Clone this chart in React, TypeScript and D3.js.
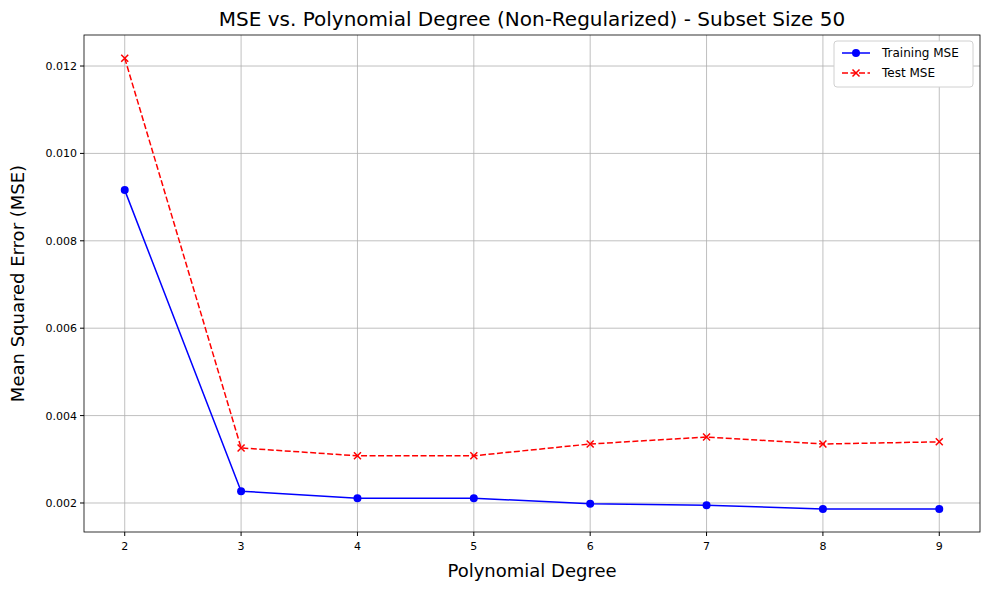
import * as d3 from "d3";

const degrees = [2, 3, 4, 5, 6, 7, 8, 9];
const trainingMse = [0.00916, 0.00227, 0.00211, 0.00211, 0.00198, 0.00195, 0.00186, 0.00186];
const testMse = [0.01218, 0.00326, 0.00308, 0.00308, 0.00335, 0.00351, 0.00335, 0.0034];
const yTicks = [0.002, 0.004, 0.006, 0.008, 0.01, 0.012];

const W = 989;
const H = 590;
const m = { left: 84, right: 9, top: 35, bottom: 58 };

export default function App() {
  const x = d3.scaleLinear().domain([1.65, 9.35]).range([m.left, W - m.right]);
  const y = d3.scaleLinear().domain([0.001336, 0.01271]).range([H - m.bottom, m.top]);
  const line = (vals: number[]) =>
    d3.line<number>().x((_, i) => x(degrees[i])).y((d) => y(d))(vals) || "";
  const font = "DejaVu Sans, sans-serif";
  const x0 = m.left, x1 = W - m.right, y0 = m.top, y1 = H - m.bottom;

  return (
    <svg width={W} height={H} style={{ position: "absolute", left: 0, top: 0 }} fontFamily={font}>
      <rect width={W} height={H} fill="#fff" />
      {degrees.map((d) => (
        <g key={d}>
          <line x1={x(d)} x2={x(d)} y1={y0} y2={y1} stroke="#b0b0b0" strokeWidth={0.8} />
          <line x1={x(d)} x2={x(d)} y1={y1} y2={y1 + 4} stroke="#000" />
          <text x={x(d)} y={y1 + 18} fontSize={11} textAnchor="middle">{d}</text>
        </g>
      ))}
      {yTicks.map((t) => (
        <g key={t}>
          <line x1={x0} x2={x1} y1={y(t)} y2={y(t)} stroke="#b0b0b0" strokeWidth={0.8} />
          <line x1={x0 - 4} x2={x0} y1={y(t)} y2={y(t)} stroke="#000" />
          <text x={x0 - 7} y={y(t) + 4} fontSize={11} textAnchor="end">{t.toFixed(3)}</text>
        </g>
      ))}
      <path d={line(trainingMse)} fill="none" stroke="#0000ff" strokeWidth={1.5} />
      {trainingMse.map((v, i) => (
        <circle key={i} cx={x(degrees[i])} cy={y(v)} r={4} fill="#0000ff" />
      ))}
      <path d={line(testMse)} fill="none" stroke="#ff0000" strokeWidth={1.5} strokeDasharray="6,2.5" />
      {testMse.map((v, i) => {
        const cx = x(degrees[i]), cy = y(v);
        return (
          <path key={i} d={`M${cx - 3.5},${cy - 3.5}L${cx + 3.5},${cy + 3.5}M${cx - 3.5},${cy + 3.5}L${cx + 3.5},${cy - 3.5}`} stroke="#ff0000" strokeWidth={1.5} />
        );
      })}
      <rect x={x0} y={y0} width={x1 - x0} height={y1 - y0} fill="none" stroke="#000" strokeWidth={0.8} />
      <text x={(x0 + x1) / 2} y={26} fontSize={20} textAnchor="middle">MSE vs. Polynomial Degree (Non-Regularized) - Subset Size 50</text>
      <text x={(x0 + x1) / 2} y={577} fontSize={18} textAnchor="middle">Polynomial Degree</text>
      <text transform={`translate(24,${(y0 + y1) / 2}) rotate(-90)`} fontSize={18} textAnchor="middle">Mean Squared Error (MSE)</text>
      <g transform="translate(834,41)">
        <rect width={139} height={46} rx={3} fill="#fff" stroke="#d0d0d0" />
        <line x1={8} x2={36} y1={12} y2={12} stroke="#0000ff" strokeWidth={1.5} />
        <circle cx={22} cy={12} r={4} fill="#0000ff" />
        <text x={48} y={16} fontSize={12}>Training MSE</text>
        <line x1={8} x2={36} y1={32} y2={32} stroke="#ff0000" strokeWidth={1.5} strokeDasharray="6,2.5" />
        <path d="M18.5,28.5L25.5,35.5M18.5,35.5L25.5,28.5" stroke="#ff0000" strokeWidth={1.5} />
        <text x={48} y={36} fontSize={12}>Test MSE</text>
      </g>
    </svg>
  );
}
